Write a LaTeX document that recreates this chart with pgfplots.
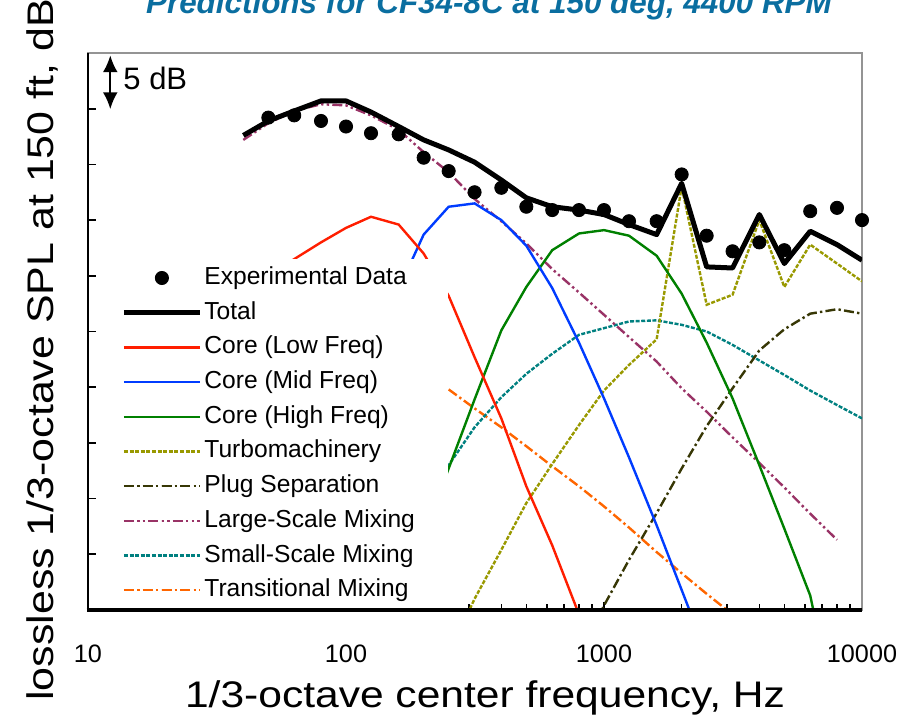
\documentclass[border=0pt]{standalone}
\usepackage{graphicx}
\usepackage{pgfplots}
\pgfplotsset{compat=1.18}
\usepackage{fontspec}
\setmainfont{Liberation Sans}
\usetikzlibrary{arrows.meta}
\definecolor{cred}{RGB}{255,30,0}
\definecolor{cblue}{RGB}{0,60,255}
\definecolor{cgreen}{RGB}{0,128,0}
\definecolor{colive}{RGB}{153,153,0}
\definecolor{cplug}{RGB}{55,55,5}
\definecolor{cpurple}{RGB}{153,51,102}
\definecolor{cteal}{RGB}{0,128,128}
\definecolor{corange}{RGB}{255,102,0}
\definecolor{ctitle}{RGB}{10,110,160}
\begin{document}
\begin{tikzpicture}
\begin{axis}[
  at={(0,0)}, anchor=south west,
  scale only axis, width=387pt, height=278.5pt,
  xmode=log, xmin=10, xmax=10000, ymin=0, ymax=50,
  xtick={10,100,1000,10000}, xticklabels={10,100,1000,10000},
  minor xtick={20,30,40,50,60,70,80,90,200,300,400,500,600,700,800,900,2000,3000,4000,5000,6000,7000,8000,9000},
  ytick={0,5,...,50}, yticklabels={},
  xtick pos=bottom, ytick pos=left,
  tick align=inside,
  major tick length=4pt, minor tick length=3pt,
  tick style={black, line width=0.8pt},
  axis line style={draw=black!42, line width=1.4pt},
  xticklabel style={font=\fontsize{12.6pt}{14pt}\selectfont, yshift=-13.8pt},
  legend image code/.code={\draw[mark repeat=2,mark phase=2,#1] plot coordinates {(0pt,0pt) (19pt,0pt) (38pt,0pt)};},
  legend style={at={(rel axis cs:0.0323,0.630)}, anchor=north west,
    draw=none, fill=white, inner xsep=4pt, inner ysep=3.5pt,
    font=\fontsize{12.3pt}{14pt}\selectfont, legend cell align=left,
    row sep=5.85pt,
    nodes={inner ysep=0pt, inner xsep=1pt, text height=9pt, text depth=2.5pt}},
]
% legend entries
\addlegendimage{only marks, mark=*, mark size=3.3pt, black}
\addlegendentry{\makebox[117pt][l]{Experimental Data}}
\addlegendimage{black, line width=2.5pt}
\addlegendentry{Total}
\addlegendimage{cred, line width=1.2pt}
\addlegendentry{Core (Low Freq)}
\addlegendimage{cblue, line width=1.2pt}
\addlegendentry{Core (Mid Freq)}
\addlegendimage{cgreen, line width=1.2pt}
\addlegendentry{Core (High Freq)}
\addlegendimage{colive, line width=1.2pt, dash pattern=on 2pt off 0.8pt}
\addlegendentry{Turbomachinery}
\addlegendimage{cplug, line width=1.2pt, dash pattern=on 5pt off 1.6pt on 1.2pt off 1.6pt}
\addlegendentry{Plug Separation}
\addlegendimage{cpurple, line width=1.2pt, dash pattern=on 5pt off 1.6pt on 1.2pt off 1.6pt on 1.2pt off 1.6pt}
\addlegendentry{Large-Scale Mixing}
\addlegendimage{cteal, line width=1.2pt, dash pattern=on 2pt off 0.8pt}
\addlegendentry{Small-Scale Mixing}
\addlegendimage{corange, line width=1.2pt, dash pattern=on 5pt off 1.6pt on 1.2pt off 1.6pt}
\addlegendentry{Transitional Mixing}

% Transitional mixing
\addplot[forget plot, corange, line width=1.2pt, dash pattern=on 5pt off 1.6pt on 1.2pt off 1.6pt] table {
250 19.8
315 18.1
400 16.4
500 14.7
630 12.9
800 11.1
1000 9.3
1250 7.4
1600 5.2
2000 3.3
2500 1.45
3150 -0.4
};
% Small-scale mixing
\addplot[forget plot, cteal, line width=1.2pt, dash pattern=on 2pt off 0.8pt] table {
125 0
160 5.2
200 9.3
250 13.0
315 16.4
400 19.1
500 21.2
630 23.0
800 24.7
1000 25.3
1250 25.9
1600 26.0
2000 25.6
2500 25.0
3150 23.8
4000 22.4
5000 21.1
6300 19.7
8000 18.4
10000 17.2
};
% Large-scale mixing
\addplot[forget plot, cpurple, line width=1.2pt, dash pattern=on 5pt off 1.6pt on 1.2pt off 1.6pt on 1.2pt off 1.6pt] table {
40 42.2
50 43.7
63 44.8
80 45.4
100 45.3
125 44.4
160 43.1
200 41.1
250 39.3
315 36.9
400 34.9
500 32.9
630 30.6
800 28.5
1000 26.5
1250 24.5
1600 22.3
2000 19.9
2500 17.8
3150 15.5
4000 13.2
5000 11.0
6300 8.65
8000 6.3
};
% Plug separation
\addplot[forget plot, cplug, line width=1.2pt, dash pattern=on 5pt off 1.6pt on 1.2pt off 1.6pt] table {
800 -4
1000 0.4
1250 4.5
1600 8.7
2000 12.7
2500 16.5
3150 19.9
4000 23.3
5000 25.2
6300 26.6
8000 27.0
10000 26.6
};
% Turbomachinery
\addplot[forget plot, colive, line width=1.2pt, dash pattern=on 2pt off 0.8pt] table {
250 -4
315 1.0
400 5.4
500 9.6
630 13.1
800 16.6
1000 19.7
1250 22.0
1600 24.3
2000 38.0
2500 27.4
3150 28.3
4000 35.0
5000 29.0
6300 32.8
8000 31.1
10000 29.5
};
% Core high
\addplot[forget plot, cgreen, line width=1.2pt] table {
125 -6
160 0.7
200 6.7
250 12.7
315 18.9
400 25.1
500 29.0
630 32.3
800 33.8
1000 34.1
1250 33.6
1600 31.8
2000 28.4
2500 24.0
3150 19.0
4000 13.0
5000 7.3
6300 1.3
8000 -10
};
% Core mid
\addplot[forget plot, cblue, line width=1.2pt] table {
50 -0.8
63 4.0
80 10.0
100 15.5
125 21.5
160 28.8
200 33.7
250 36.2
315 36.5
400 35.0
500 32.7
630 28.9
800 24.0
1000 19.0
1250 13.7
1600 7.6
2000 1.8
2500 -4
};
% Core low
\addplot[forget plot, cred, line width=1.2pt] table {
40 28.5
50 30.0
63 31.5
80 33.0
100 34.3
125 35.3
160 34.6
200 32.0
250 28.2
315 22.7
400 17.2
500 11.1
630 5.8
800 -0.4
};
% Total
\addplot[forget plot, black, line width=2.5pt, line join=round] table {
40 42.6
50 43.9
63 44.8
80 45.7
100 45.7
125 44.7
160 43.4
200 42.2
250 41.3
315 40.2
400 38.6
500 37.0
630 36.2
800 35.9
1000 35.5
1250 34.6
1600 33.7
2000 38.3
2500 30.8
3150 30.7
4000 35.5
5000 31.1
6300 34.0
8000 32.8
10000 31.4
};
% Experimental data
\addplot[forget plot, only marks, mark=*, mark size=3.3pt, black] table {
50 44.2
63 44.4
80 43.9
100 43.4
125 42.8
160 42.7
200 40.6
250 39.4
315 37.5
400 37.9
500 36.2
630 35.9
800 35.9
1000 35.9
1250 34.9
1600 34.9
2000 39.1
2500 33.6
3150 32.2
4000 33.0
5000 32.3
6300 35.8
8000 36.1
10000 35.0
};
% 5 dB scale
\draw[{Latex[length=8.5pt,width=7.5pt]}-{Latex[length=8.5pt,width=7.5pt]}, line width=1.2pt] (axis cs:12.2,44.95) -- (axis cs:12.2,49.8);
\node[anchor=base west, inner sep=0pt, font=\fontsize{15.5pt}{18pt}\selectfont] at (axis cs:13.67,46.68) {5 dB};
\end{axis}
% black left and bottom axis lines
\draw[black, line width=1.3pt] (0,0) -- (0,278.5pt);
\draw[black, line width=2pt] (-0.65pt,0) -- (387pt,0);
% labels
\node[anchor=base, inner sep=0pt, font=\fontsize{18.5pt}{22pt}\selectfont] at (198.5pt,-49pt) {\scalebox{1.15}[1]{1/3-octave center frequency, Hz}};
\node[rotate=90, anchor=base west, inner sep=0pt, font=\fontsize{18.5pt}{22pt}\selectfont] at (-17pt,-45.5pt) {\scalebox{1.16}[1]{lossless 1/3-octave SPL at 150 ft, dB}};
\node[anchor=base, inner sep=0pt, text=ctitle, font=\bfseries\itshape\fontsize{15.7pt}{18pt}\selectfont] at (200.5pt,298.3pt) {Predictions for CF34-8C at 150 deg, 4400 RPM};
\pgfresetboundingbox
\path[use as bounding box] (-44pt,-54pt) rectangle (412pt,305pt);
\end{tikzpicture}
\end{document}
